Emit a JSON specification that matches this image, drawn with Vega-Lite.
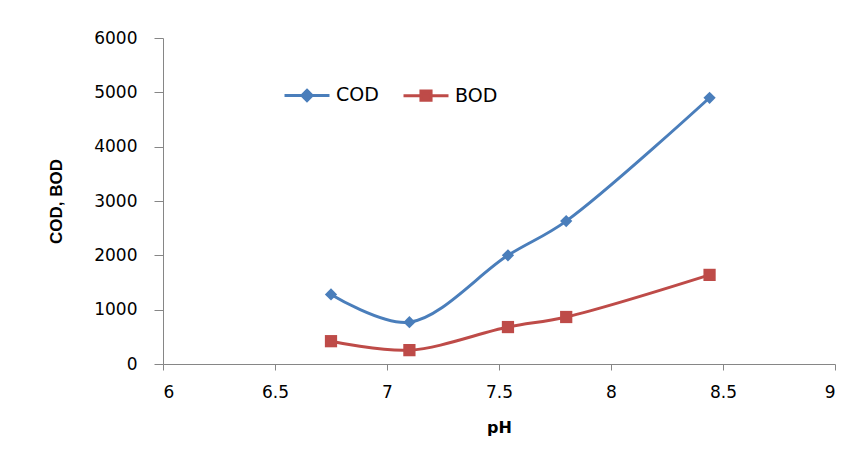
{
  "$schema": "https://vega.github.io/schema/vega-lite/v6.json",
  "width": 672,
  "height": 326,
  "autosize": {"type": "none"},
  "padding": {"left": 163, "top": 38, "right": 18, "bottom": 86},
  "background": "white",
  "config": {
    "view": {"stroke": null},
    "axis": {
      "grid": false,
      "domainColor": "#868686",
      "tickColor": "#868686",
      "labelColor": "#000000",
      "labelFont": "DejaVu Sans",
      "labelFontSize": 17,
      "titleColor": "#000000"
    }
  },
  "data": {
    "values": [
      {"pH": 6.75, "value": 1280, "series": "COD"},
      {"pH": 7.10, "value": 770, "series": "COD"},
      {"pH": 7.54, "value": 2000, "series": "COD"},
      {"pH": 7.80, "value": 2630, "series": "COD"},
      {"pH": 8.44, "value": 4900, "series": "COD"},
      {"pH": 6.75, "value": 420, "series": "BOD"},
      {"pH": 7.10, "value": 255, "series": "BOD"},
      {"pH": 7.54, "value": 680, "series": "BOD"},
      {"pH": 7.80, "value": 865, "series": "BOD"},
      {"pH": 8.44, "value": 1640, "series": "BOD"}
    ]
  },
  "encoding": {
    "x": {
      "field": "pH", "type": "quantitative",
      "scale": {"domain": [6, 9], "nice": false, "zero": false},
      "axis": {
        "values": [6, 6.5, 7, 7.5, 8, 8.5, 9],
        "format": "~g",
        "tickSize": 6,
        "labelPadding": 14,
        "title": "pH",
        "titleFont": "DejaVu Sans",
        "titleFontWeight": "bold",
        "titleFontSize": 16,
        "titlePadding": 19
      }
    },
    "y": {
      "field": "value", "type": "quantitative",
      "scale": {"domain": [0, 6000], "nice": false},
      "axis": {
        "values": [0, 1000, 2000, 3000, 4000, 5000, 6000],
        "format": "d",
        "tickSize": 9,
        "labelPadding": 17,
        "title": "COD, BOD",
        "titleFont": "Liberation Sans Narrow, Liberation Sans",
        "titleFontWeight": "bold",
        "titleFontSize": 17,
        "titlePadding": 28
      }
    },
    "color": {
      "field": "series", "type": "nominal",
      "scale": {"domain": ["COD", "BOD"], "range": ["#4A7EBB", "#BE4B48"]},
      "legend": {
        "orient": "none",
        "legendX": 131,
        "legendY": 44,
        "direction": "horizontal",
        "title": null,
        "padding": 0,
        "symbolSize": 506,
        "symbolStrokeWidth": 3,
        "labelFont": "DejaVu Sans",
        "labelFontSize": 19,
        "labelColor": "#000000",
        "labelOffset": 16,
        "columnPadding": 18,
        "encode": {
          "symbols": {
            "update": {
              "shape": {"signal": "datum.value === 'COD' ? 'M-2,0H2M0,-0.45L0.45,0L0,0.45L-0.45,0Z' : 'M-2,0H2M-0.45,-0.42H0.45V0.42H-0.45Z'"},
              "fill": {"signal": "datum.value === 'COD' ? '#4A7EBB' : '#BE4B48'"},
              "stroke": {"signal": "datum.value === 'COD' ? '#4A7EBB' : '#BE4B48'"},
              "opacity": {"value": 1},
              "fillOpacity": {"value": 1}
            }
          }
        }
      }
    }
  },
  "layer": [
    {
      "mark": {"type": "line", "interpolate": "catmull-rom", "strokeWidth": 3}
    },
    {
      "mark": {"type": "point", "filled": true, "opacity": 1},
      "encoding": {
        "shape": {"condition": {"test": "datum.series === 'COD'", "value": "diamond"}, "value": "square"},
        "size": {"value": 150}
      }
    }
  ]
}
